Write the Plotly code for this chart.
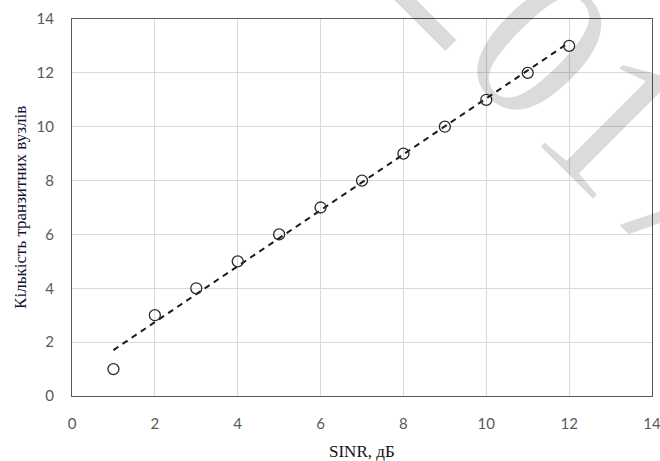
import numpy as np
import plotly.graph_objects as go

# SINR (dB) and number of relay nodes
sinr_db = [1, 2, 3, 4, 5, 6, 7, 8, 9, 10, 11, 12]
relay_nodes = [1, 3, 4, 5, 6, 7, 8, 9, 10, 11, 12, 13]

x_ticks = [0, 2, 4, 6, 8, 10, 12, 14]
y_ticks = [0, 2, 4, 6, 8, 10, 12, 14]

x_title = "SINR, дБ"
y_title = "Кількість транзитних вузлів"

# linear trendline through the measured points
slope, intercept = np.polyfit(sinr_db, relay_nodes, 1)
trend_x = np.array([min(sinr_db), max(sinr_db)])
trend_y = slope * trend_x + intercept

fig = go.Figure()

fig.add_trace(go.Scatter(
    x=trend_x, y=trend_y, mode="lines",
    line=dict(color="#1a1a1a", width=2, dash="6px,5px"),
    hoverinfo="skip", showlegend=False,
))

fig.add_trace(go.Scatter(
    x=sinr_db, y=relay_nodes, mode="markers",
    marker=dict(symbol="circle-open", size=11, color="#2b2b2b",
                line=dict(width=1.3, color="#2b2b2b")),
    showlegend=False,
))

# faint document watermark
fig.add_annotation(
    text="2017", xref="paper", yref="paper", x=0.872, y=0.83,
    xanchor="center", yanchor="middle", showarrow=False, textangle=45,
    font=dict(family="Liberation Serif", size=210, color="rgba(0,0,0,0.14)"),
)

# axis titles
fig.add_annotation(
    text=x_title, xref="paper", yref="paper", x=0.5, y=-0.148,
    xanchor="center", yanchor="middle", showarrow=False,
    font=dict(family="Liberation Serif", size=17, color="#111111"),
)
fig.add_annotation(
    text=y_title, xref="paper", yref="paper", x=-0.089, y=0.5,
    xanchor="center", yanchor="middle", showarrow=False, textangle=-90,
    font=dict(family="Liberation Serif", size=17, color="#111133"),
)

axis_common = dict(
    showgrid=True, gridcolor="#d9d9d9", gridwidth=1,
    showline=True, linecolor="#595959", linewidth=1.3, mirror=True,
    zeroline=False, ticks="", automargin=False, ticklabeloverflow="allow",
    tickfont=dict(family="Lato", size=15, color="#595959"),
)

fig.update_xaxes(range=[0, 14], tickvals=x_ticks, ticklabelstandoff=14, **axis_common)
fig.update_yaxes(range=[0, 14], tickvals=y_ticks, ticklabelstandoff=14, **axis_common)

fig.update_layout(
    width=660, height=461,
    margin=dict(l=72, r=8, t=19, b=65),
    paper_bgcolor="white", plot_bgcolor="rgba(0,0,0,0)",
)

fig.write_html("out.html")
